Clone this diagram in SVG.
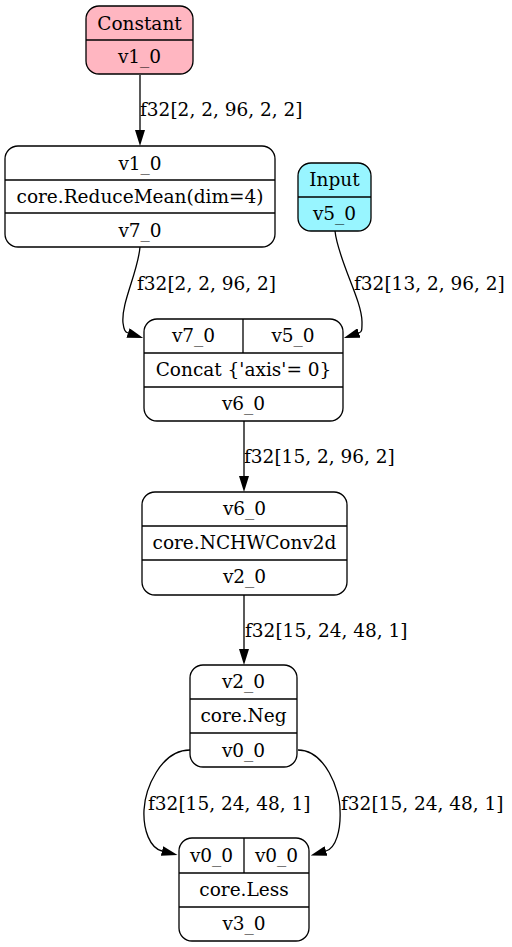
<svg xmlns="http://www.w3.org/2000/svg" width="512" height="947" viewBox="0 0 512 947">
  <style>
    text { font-family: "DejaVu Serif", "Liberation Serif", serif; font-size: 18.5px; fill: #000; }
    .c { text-anchor: middle; }
    .box { stroke: #000; stroke-width: 1.3; fill: #fff; }
    .sep { stroke: #000; stroke-width: 1.3; fill: none; }
    .edge { stroke: #000; stroke-width: 1.3; fill: none; marker-end: url(#arrow); }
    .const { fill: #ffb6c1; }
    .input { fill: #98f5ff; }
  </style>
  <defs>
    <marker id="arrow" markerUnits="userSpaceOnUse" viewBox="0 -5 16 10" markerWidth="16" markerHeight="10" refX="0" refY="0" orient="auto">
      <path d="M0,-5 L16,0 L0,5 z" fill="#000"/>
    </marker>
  </defs>
  <rect width="512" height="947" fill="#fff"/>

  <g id="connectors">
    <path class="edge" d="M140,75 L140,130"/>
    <text x="140" y="116">f32[2, 2, 96, 2, 2]</text>

    <path class="edge" d="M140,247 C138,272 121,303 123,323 C124,330 125,332 128,333"/>
    <text x="137" y="290">f32[2, 2, 96, 2]</text>

    <path class="edge" d="M335,231 C338,260 362,300 362,322 C362,330 362,332 359,333"/>
    <text x="354" y="290">f32[13, 2, 96, 2]</text>

    <path class="edge" d="M244,421 L244,476"/>
    <text x="244" y="463">f32[15, 2, 96, 2]</text>

    <path class="edge" d="M244,595 L244,649"/>
    <text x="245" y="637">f32[15, 24, 48, 1]</text>

    <path class="edge" d="M190,750 C160,750 145,790 144,810 C143,830 150,848 162,851"/>
    <text x="148" y="810">f32[15, 24, 48, 1]</text>

    <path class="edge" d="M298,750 C325,750 340,790 340,810 C341,830 336,848 326,851"/>
    <text x="341" y="810">f32[15, 24, 48, 1]</text>
  </g>

  <g id="node-constant">
    <rect class="box const" x="86" y="6" width="107" height="68" rx="13"/>
    <line class="sep" x1="86" y1="40" x2="193" y2="40"/>
    <text class="c" x="139.5" y="30">Constant</text>
    <text class="c" x="139.5" y="63">v1_0</text>
  </g>

  <g id="node-reducemean">
    <rect class="box" x="5" y="146" width="270" height="101" rx="13"/>
    <line class="sep" x1="5" y1="180" x2="275" y2="180"/>
    <line class="sep" x1="5" y1="213" x2="275" y2="213"/>
    <text class="c" x="140" y="170">v1_0</text>
    <text class="c" x="140" y="203">core.ReduceMean(dim=4)</text>
    <text class="c" x="140" y="237">v7_0</text>
  </g>

  <g id="node-input">
    <rect class="box input" x="298" y="163" width="73" height="68" rx="13"/>
    <line class="sep" x1="298" y1="197" x2="371" y2="197"/>
    <text class="c" x="334.5" y="186">Input</text>
    <text class="c" x="334.5" y="220">v5_0</text>
  </g>

  <g id="node-concat">
    <rect class="box" x="144" y="319" width="199" height="102" rx="13"/>
    <line class="sep" x1="144" y1="353" x2="343" y2="353"/>
    <line class="sep" x1="144" y1="387" x2="343" y2="387"/>
    <line class="sep" x1="243" y1="319" x2="243" y2="353"/>
    <text class="c" x="193.5" y="342">v7_0</text>
    <text class="c" x="293" y="342">v5_0</text>
    <text class="c" x="243.5" y="376">Concat {'axis'= 0}</text>
    <text class="c" x="243.5" y="410">v6_0</text>
  </g>

  <g id="node-conv">
    <rect class="box" x="142" y="492" width="205" height="103" rx="13"/>
    <line class="sep" x1="142" y1="526" x2="347" y2="526"/>
    <line class="sep" x1="142" y1="560" x2="347" y2="560"/>
    <text class="c" x="244.5" y="515">v6_0</text>
    <text class="c" x="244.5" y="549">core.NCHWConv2d</text>
    <text class="c" x="244.5" y="583">v2_0</text>
  </g>

  <g id="node-neg">
    <rect class="box" x="190" y="665" width="107" height="102" rx="13"/>
    <line class="sep" x1="190" y1="699" x2="297" y2="699"/>
    <line class="sep" x1="190" y1="733" x2="297" y2="733"/>
    <text class="c" x="243.5" y="688">v2_0</text>
    <text class="c" x="243.5" y="722">core.Neg</text>
    <text class="c" x="243.5" y="757">v0_0</text>
  </g>

  <g id="node-less">
    <rect class="box" x="179" y="838" width="130" height="103" rx="13"/>
    <line class="sep" x1="179" y1="873" x2="309" y2="873"/>
    <line class="sep" x1="179" y1="907" x2="309" y2="907"/>
    <line class="sep" x1="244" y1="838" x2="244" y2="873"/>
    <text class="c" x="211.5" y="862">v0_0</text>
    <text class="c" x="276.5" y="862">v0_0</text>
    <text class="c" x="244" y="896">core.Less</text>
    <text class="c" x="244" y="930">v3_0</text>
  </g>
</svg>
